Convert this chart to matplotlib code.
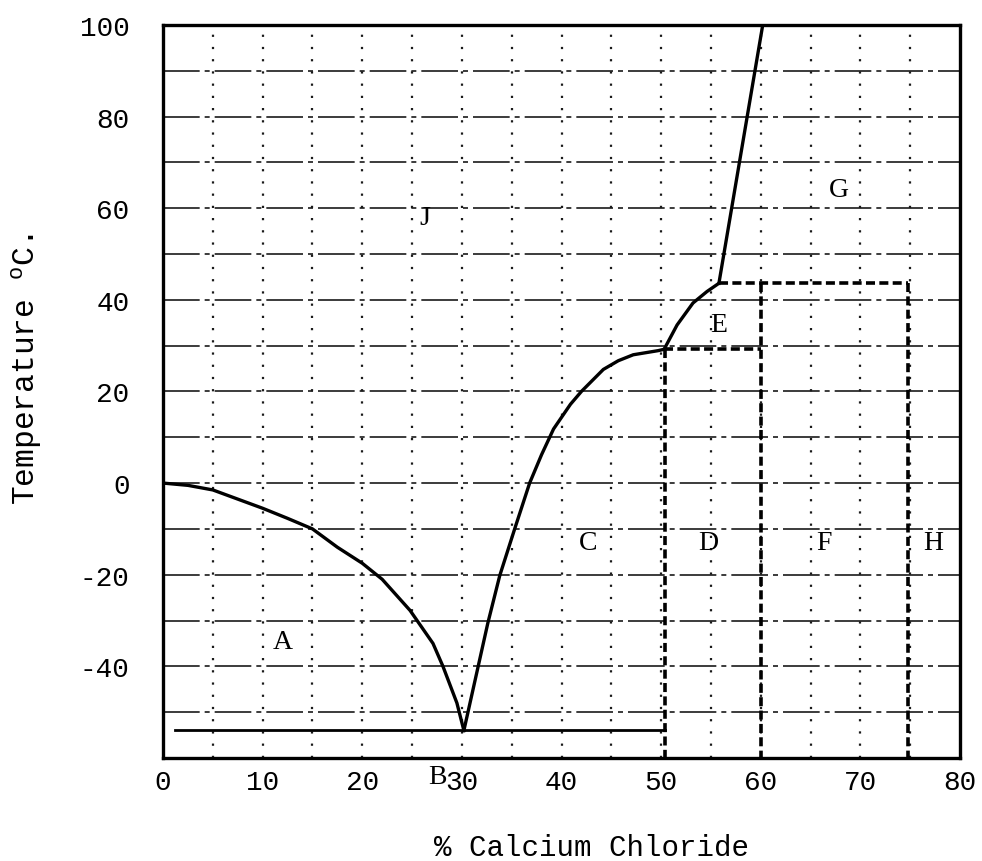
import numpy as np
import matplotlib
matplotlib.use('Agg')
import matplotlib.pyplot as plt

# liquidus curves (% CaCl2, temperature C)
ice_x = [0, 2.5, 5, 10, 12.5, 15, 17.5, 20, 22, 24.8, 27.1, 28.1, 29.5, 30.2]
ice_y = [0, -0.5, -1.5, -5.5, -7.7, -10, -14, -17.5, -21, -27.8, -35, -40, -48, -54]

hexa_x = [30.2, 32.6, 33.8, 35.3, 36.8, 38.0, 39.2, 40.9, 42.0, 44.2, 45.7, 47.2, 49.7, 50.3]
hexa_y = [-54, -30.6, -20.2, -10, 0, 6.2, 11.8, 17.2, 20.0, 24.8, 26.7, 28.0, 28.9, 29.2]

tetra_x = [50.3, 51.6, 53.2, 54.6, 55.8]
tetra_y = [29.2, 34.5, 39.3, 41.8, 43.6]

di_x = [55.8, 60.2]
di_y = [43.6, 100]

eutectic_x = [1.2, 50.4]
eutectic_y = [-54, -54]

# dashed phase boundaries: (x0, y0, x1, y1)
boundaries = [
    (50.3, 29.2, 60.0, 29.2),
    (50.4, 29.2, 50.4, -60),
    (60.0, 43.6, 60.0, -60),
    (55.8, 43.6, 74.8, 43.6),
    (74.8, 43.6, 74.8, -60),
]

region_labels = ['J', 'G', 'E', 'C', 'D', 'F', 'H', 'A', 'B']
region_x = [26.3, 67.8, 55.8, 42.7, 54.7, 66.3, 77.3, 12.0, 27.5]
region_y = [58, 64, 34.7, -13, -13, -13, -13, -34.5, -64]

xticks = [0, 10, 20, 30, 40, 50, 60, 70, 80]
yticks = [-40, -20, 0, 20, 40, 60, 80, 100]
ytick_labels = ['-40', '-20', '0', '20', '40', '60', '80', '100']

plt.rcParams['font.family'] = ['Liberation Mono', 'DejaVu Sans Mono']
plt.rcParams['mathtext.fontset'] = 'custom'
plt.rcParams['mathtext.rm'] = 'Liberation Mono'

fig = plt.figure(figsize=(9.82, 8.62), dpi=100)
ax = fig.add_axes([0.166, 0.1195, 0.8116, 0.8505])
ax.set_xlim(0, 80)
ax.set_ylim(-60, 100)

# grid: solid-ish horizontals every 10, dotted verticals every 5
for y in range(-50, 100, 10):
    ax.axhline(y, color='#1a1a1a', lw=1.2, ls=(0, (22, 3, 3, 3)), zorder=1)
for x in range(5, 80, 5):
    ax.axvline(x, color='#1a1a1a', lw=1.6, ls=(0, (1, 4.5)), zorder=1)

ax.plot(ice_x, ice_y, color='black', lw=2.4, zorder=3)
ax.plot(hexa_x, hexa_y, color='black', lw=2.4, zorder=3)
ax.plot(tetra_x, tetra_y, color='black', lw=2.4, zorder=3)
ax.plot(di_x, di_y, color='black', lw=2.4, zorder=3)
ax.plot(eutectic_x, eutectic_y, color='black', lw=2.0, zorder=3)

for x0, y0, x1, y1 in boundaries:
    ax.plot([x0, x1], [y0, y1], color='black', lw=2.6, ls=(0, (2.5, 1.2)), zorder=3)

for lab, x, y in zip(region_labels, region_x, region_y):
    ax.text(x, y, lab, fontsize=20, ha='center', va='center', zorder=4,
            clip_on=False, family='Liberation Serif')

ax.set_xticks(xticks)
ax.set_xticklabels([str(t) for t in xticks])
ax.set_yticks(yticks)
ax.set_yticklabels(ytick_labels)
ax.tick_params(length=0, labelsize=20)
ax.tick_params(axis='x', pad=8)
ax.tick_params(axis='y', pad=24)

for s in ax.spines.values():
    s.set_linewidth(2.4)

ax.set_xlabel('% Calcium Chloride', fontsize=21, va='center')
ax.xaxis.set_label_coords(0.538, -0.121)
ax.set_ylabel(r'Temperature $^{\mathrm{o}}$C.', fontsize=22.5, va='center')
ax.yaxis.set_label_coords(-0.171, 0.531)

fig.savefig('out.png', dpi=100, facecolor='white')
